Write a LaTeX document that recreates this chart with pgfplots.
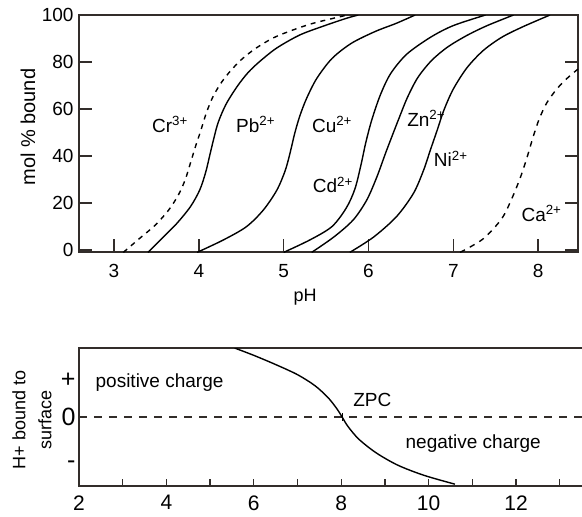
\documentclass[border=0pt]{standalone}
\usepackage{fontspec}
\setmainfont{Liberation Sans}
\usepackage{pgfplots}
\pgfplotsset{compat=1.18}
\definecolor{clrAxis}{RGB}{50,45,42}
\newcommand{\fs}[1]{\fontsize{#1}{#1}\selectfont}

\begin{document}
\begin{tikzpicture}
% ---- top: mol % bound vs pH ----
\begin{axis}[
  scale only axis, width=499pt, height=237pt,
  at={(79pt,-252pt)}, anchor=south west,
  xmin=2.587, xmax=8.47, ymin=-0.85, ymax=100,
  xtick={3,...,8}, ytick={0,20,...,100},
  tick align=inside, xtick pos=left, ytick pos=both,
  major tick length=13pt,
  every tick/.style={clrAxis, line width=1.3pt},
  axis line style={clrAxis, line width=1.4pt},
  ticklabel style={font=\fs{19}},
  x tick label style={yshift=-9pt},
  y tick label style={xshift=-2pt},
  /pgf/number format/assume math mode=true,
  xlabel={pH},
  every axis x label/.style={at={(axis description cs:0.453,-0.19)}, anchor=center, font=\fs{18}},
  ylabel={mol \% bound},
  every axis y label/.style={at={(axis description cs:-0.102,0.527)}, anchor=center, rotate=90, font=\fs{20}},
  clip=true,
]
% Cr3+
\addplot[black, line width=1.4pt, dash pattern=on 5pt off 5pt, smooth, tension=0.5] coordinates {
  (3.11,-1)(3.31,5.2)(3.48,10.4)(3.64,16.8)(3.76,23.5)(3.84,30)(3.90,36.9)(3.96,44)
  (4.02,50.5)(4.09,58.5)(4.17,65.5)(4.27,71.5)(4.38,76.5)(4.51,81.3)(4.67,85.8)
  (4.88,90.3)(5.10,93.5)(5.35,96.5)(5.75,100)};
% Pb2+
\addplot[black, line width=1.4pt, smooth, tension=0.5] coordinates {
  (3.40,-1)(3.58,5.5)(3.74,11.3)(3.90,18.4)(4.01,25.5)(4.08,33)(4.13,40.5)(4.18,48)
  (4.23,54.5)(4.32,62)(4.45,69.5)(4.58,75.5)(4.72,80.3)(4.92,86)(5.19,91.5)(5.47,95.3)
  (5.74,98.6)(5.88,100)};
% Cu2+
\addplot[black, line width=1.4pt, smooth, tension=0.5] coordinates {
  (3.98,-1)(4.29,4.3)(4.56,9.9)(4.76,17)(4.92,25.5)(5.02,34)(5.08,42)(5.13,49.6)
  (5.19,57)(5.27,64.5)(5.39,73)(5.57,81.5)(5.80,88)(6.08,93)(6.33,96.5)(6.55,100)};
% Cd2+
\addplot[black, line width=1.4pt, smooth, tension=0.5] coordinates {
  (5.00,-1)(5.31,4.3)(5.57,10)(5.74,18)(5.84,26)(5.91,36)(5.97,46)(6.04,55.5)
  (6.14,66)(6.26,75)(6.45,83.3)(6.73,90.5)(7.00,95.5)(7.38,100)};
% Zn2+
\addplot[black, line width=1.4pt, smooth, tension=0.5] coordinates {
  (5.33,-1)(5.59,5.5)(5.82,12.8)(5.98,21.3)(6.10,31.2)(6.20,41.1)(6.29,49.6)
  (6.37,57)(6.46,65)(6.58,73.3)(6.74,80.5)(6.93,86.3)(7.16,91.3)(7.40,95.5)(7.71,100)};
% Ni2+
\addplot[black, line width=1.4pt, smooth, tension=0.5] coordinates {
  (5.78,-1)(6.06,5.5)(6.33,14.2)(6.53,24.1)(6.65,34)(6.73,42.6)(6.81,51)
  (6.89,59.6)(7.00,68.5)(7.16,77.5)(7.35,84.8)(7.57,90.5)(7.82,95)(8.14,100)};
% Ca2+
\addplot[black, line width=1.4pt, dash pattern=on 5.5pt off 5.5pt, smooth, tension=0.5] coordinates {
  (7.08,-1)(7.35,4.7)(7.57,13.3)(7.69,21.9)(7.79,30.8)(7.87,39.5)(7.94,48)
  (8.01,55.5)(8.10,62.5)(8.22,68.5)(8.34,73)(8.47,77)};
\node[font=\fs{19}] at (axis cs:3.66,53.4) {Cr\textsuperscript{3+}};
\node[font=\fs{19}] at (axis cs:4.67,53.4) {Pb\textsuperscript{2+}};
\node[font=\fs{19}] at (axis cs:5.57,53.4) {Cu\textsuperscript{2+}};
\node[font=\fs{19}] at (axis cs:5.58,27.8) {Cd\textsuperscript{2+}};
\node[font=\fs{19}] at (axis cs:6.68,56.0) {Zn\textsuperscript{2+}};
\node[font=\fs{19}] at (axis cs:6.97,38.9) {Ni\textsuperscript{2+}};
\node[font=\fs{19}] at (axis cs:8.04,15.5) {Ca\textsuperscript{2+}};
\end{axis}

% ---- bottom: surface charge vs pH ----
\begin{axis}[
  scale only axis, width=507pt, height=138pt,
  at={(79pt,-486pt)}, anchor=south west,
  xmin=2, xmax=13.6, ymin=-1.5, ymax=1.5,
  xtick={2,...,13}, xticklabels={2,,4,,6,,8,,10,,12,},
  ytick={-1.04,0,0.8}, yticklabels={-,0,+},
  tick align=inside, xtick pos=left, ytick pos=left,
  xtick style={clrAxis, line width=1.3pt},
  major tick length=7pt,
  y tick style={draw=none},
  axis line style={clrAxis, line width=1.4pt},
  x tick label style={font=\fs{21}, yshift=-6pt},
  y tick label style={font=\fs{25}},
  ylabel={H+ bound to\\surface},
  every axis y label/.style={at={(axis description cs:-0.093,0.478)}, anchor=center, rotate=90, align=center, font=\fontsize{18}{26}\selectfont},
]
\addplot[clrAxis, line width=1.4pt, dash pattern=on 8pt off 7pt] coordinates {(2,0)(13.6,0)};
\addplot[black, line width=1.4pt, smooth, tension=0.5] coordinates {
  (5.56,1.5)(6.0,1.34)(6.5,1.14)(7.0,0.92)(7.4,0.68)(7.7,0.42)(7.9,0.18)(8.02,0)
  (8.15,-0.2)(8.4,-0.48)(8.8,-0.78)(9.3,-1.05)(9.9,-1.27)(10.6,-1.46)};
% ZPC marker
\addplot[black, line width=1pt, only marks, mark=|, mark size=4pt] coordinates {(8.02,0)};
\node[font=\fs{19}] at (axis cs:8.71,0.37) {ZPC};
\node[font=\fs{19}, anchor=west] at (axis cs:2.3,0.74) {positive charge};
\node[font=\fs{19}] at (axis cs:11.02,-0.57) {negative charge};
\end{axis}
\pgfresetboundingbox
\path[use as bounding box] (0pt,0pt) rectangle (582pt,-517pt);
\end{tikzpicture}
\end{document}
